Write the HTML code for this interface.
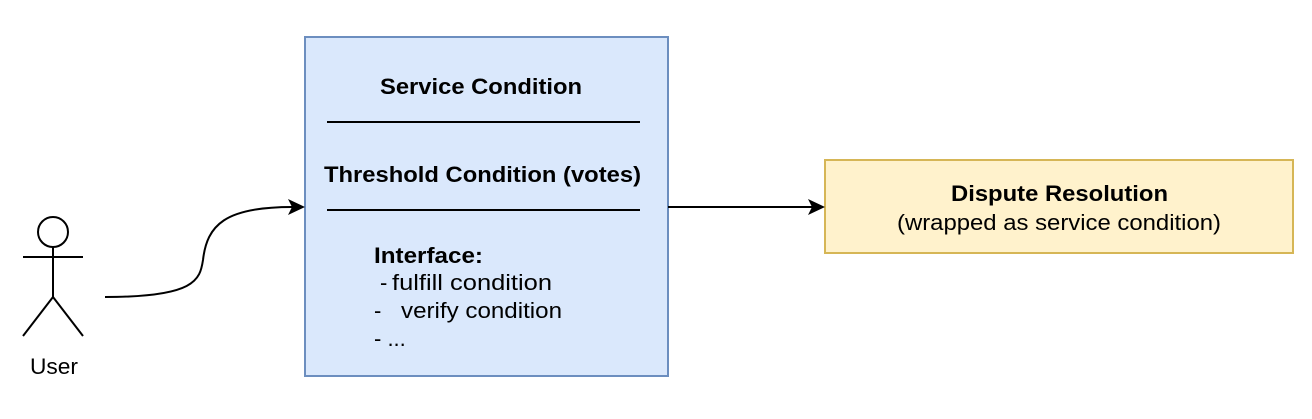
<!DOCTYPE html>
<html><head><style>body{margin:0;background:#fff}</style></head><body>
<svg width="1312" height="414" xmlns="http://www.w3.org/2000/svg" font-family="Liberation Sans, Arial, sans-serif" font-size="22">
<rect x="305" y="37" width="363" height="339" fill="#dae8fc" stroke="#6c8ebf" stroke-width="2"/>
<text x="380" y="94" font-weight="bold" textLength="202" lengthAdjust="spacingAndGlyphs">Service Condition</text>
<line x1="327" y1="122" x2="640" y2="122" stroke="#000" stroke-width="2"/>
<text x="324" y="182" font-weight="bold" textLength="317" lengthAdjust="spacingAndGlyphs">Threshold Condition (votes)</text>
<line x1="327" y1="210" x2="640" y2="210" stroke="#000" stroke-width="2"/>
<text x="374" y="263" font-weight="bold" textLength="109" lengthAdjust="spacingAndGlyphs">Interface:</text>
<text x="380" y="290">-</text>
<text x="392" y="290" textLength="160" lengthAdjust="spacingAndGlyphs">fulfill condition</text>
<text x="374" y="318">-</text>
<text x="401" y="318" textLength="161" lengthAdjust="spacingAndGlyphs">verify condition</text>
<text x="374" y="346">- ...</text>
<rect x="825" y="160" width="468" height="93" fill="#fff2cc" stroke="#d6b656" stroke-width="2"/>
<text x="951" y="201" font-weight="bold" textLength="217" lengthAdjust="spacingAndGlyphs">Dispute Resolution</text>
<text x="897" y="230" textLength="324" lengthAdjust="spacingAndGlyphs">(wrapped as service condition)</text>
<line x1="668" y1="207" x2="812" y2="207" stroke="#000" stroke-width="2"/>
<path d="M825 207 L808 199 L812 207 L808 215 Z" fill="#000"/>
<path d="M105 297 C195 297 200 280 203 260 C207 225 225 207 292 207" fill="none" stroke="#000" stroke-width="2"/>
<path d="M305 207 L288 199 L292 207 L288 215 Z" fill="#000"/>
<g stroke="#000" stroke-width="2" fill="none">
<circle cx="53" cy="232" r="15"/>
<line x1="53" y1="247" x2="53" y2="297"/>
<line x1="23" y1="257" x2="83" y2="257"/>
<line x1="53" y1="297" x2="23" y2="336"/>
<line x1="53" y1="297" x2="83" y2="336"/>
</g>
<text x="30" y="374" textLength="48" lengthAdjust="spacingAndGlyphs">User</text>
</svg>
</body></html>
